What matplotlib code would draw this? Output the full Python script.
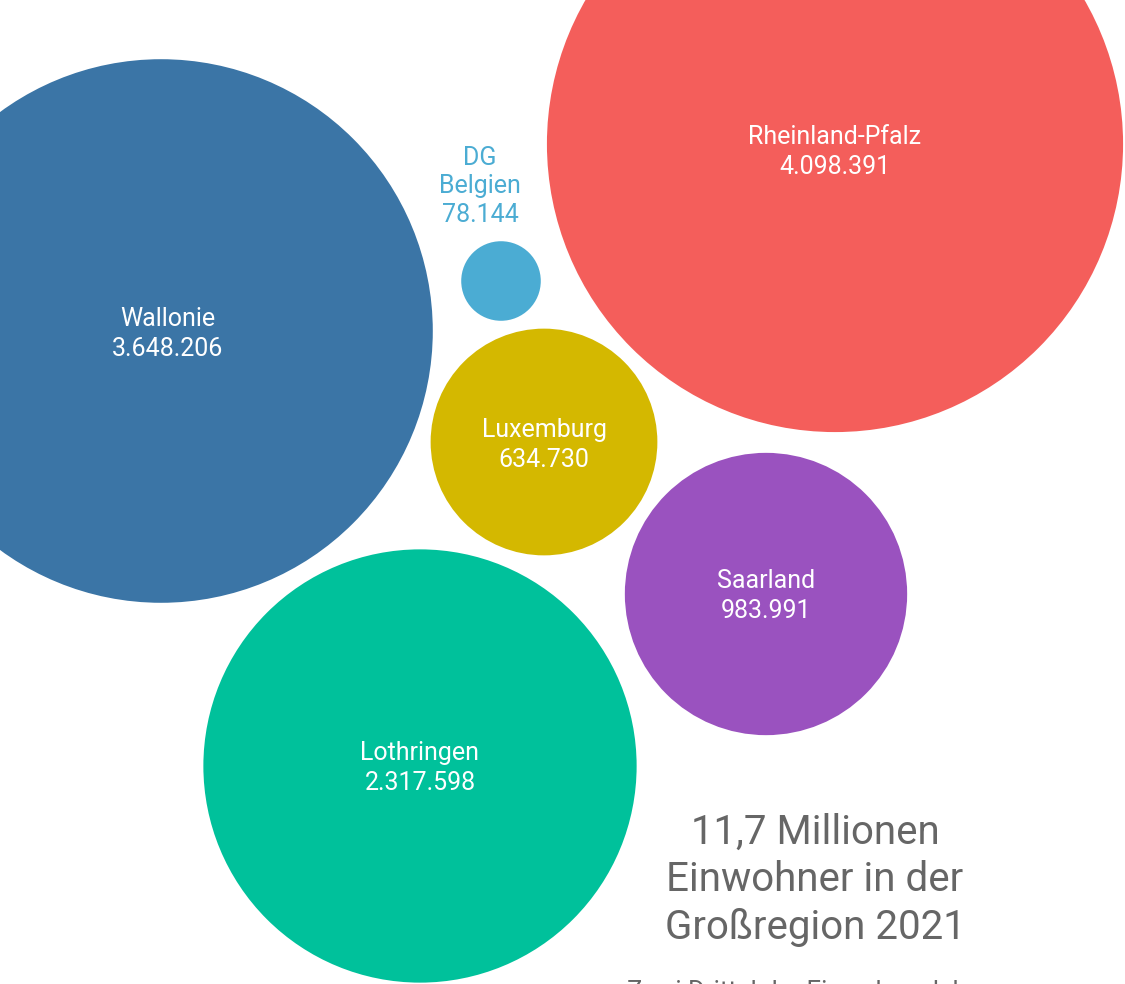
import matplotlib.pyplot as plt
from matplotlib.patches import Circle
import numpy as np

plt.rcParams['font.family'] = ['Roboto', 'DejaVu Sans']

# population of the Großregion 2021
regions = ["Wallonie", "Rheinland-Pfalz", "DG\nBelgien", "Luxemburg", "Saarland", "Lothringen"]
population = [3648206, 4098391, 78144, 634730, 983991, 2317598]
colors = ["#3b75a6", "#f45e5b", "#4bacd3", "#d4b800", "#9a52bf", "#00c19b"]

# layout of the packed bubbles (pixel space, y downwards)
cx = [161, 835, 501, 544, 766, 420]
cy = [331, 144, 281, 442, 594, 766]
# label nudges
dx = [7, 0, -21, 0, 0, 0]
dy = [3, 8, -14, 3, 2, 2]
scale = 0.1423  # px per sqrt(inhabitant)


def fmt(n):
    return "{:,}".format(n).replace(",", ".")


fig = plt.figure(figsize=(11.25, 9.84), dpi=100)
ax = fig.add_axes([0, 0, 1, 1])
ax.set_xlim(0, 1125)
ax.set_ylim(984, 0)
ax.set_aspect("equal")
ax.axis("off")

for i in range(len(regions)):
    r = scale * np.sqrt(population[i])
    ax.add_patch(Circle((cx[i], cy[i]), r, color=colors[i], lw=0))
    label = regions[i] + "\n" + fmt(population[i])
    if r < 60:
        # small bubble: label sits above, in the bubble colour
        ax.text(cx[i] + dx[i], cy[i] - r + dy[i], label, color=colors[i], fontsize=18,
                ha="center", va="bottom", linespacing=1.25)
    else:
        ax.text(cx[i] + dx[i], cy[i] + dy[i], label, color="white", fontsize=18,
                ha="center", va="center", linespacing=1.3)

ax.text(815, 880, "11,7 Millionen\nEinwohner in der\nGroßregion 2021", color="#666666",
        fontsize=29, ha="center", va="center", linespacing=1.28)
ax.text(627, 980, "Zwei Drittel der Einwohner leben", color="#666666",
        fontsize=18.5, ha="left", va="top")

fig.savefig("out.png", dpi=100)
